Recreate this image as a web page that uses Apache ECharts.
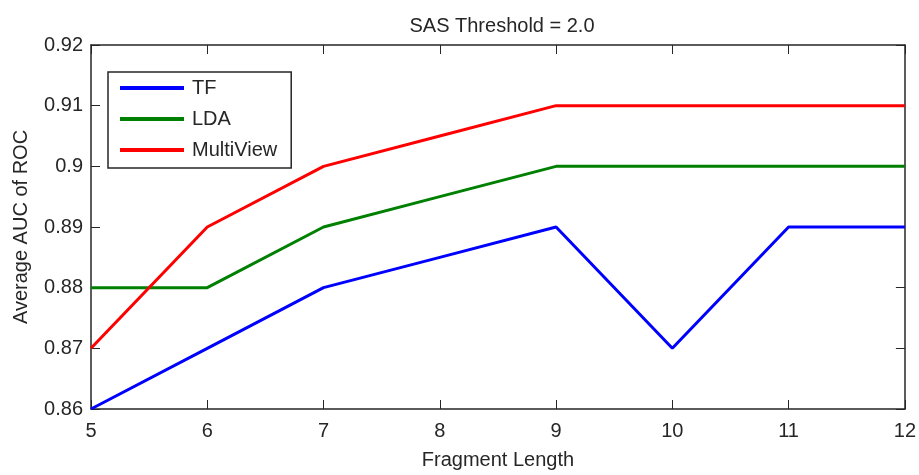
<!DOCTYPE html>
<html>
<head>
<meta charset="utf-8">
<script src="https://cdn.jsdelivr.net/npm/echarts@6/dist/echarts.min.js"></script>
<style>
  html, body { margin: 0; padding: 0; background: #fff; }
  #chart { width: 919px; height: 475px; }
</style>
</head>
<body>
<div id="chart"></div>
<script>
// fragment lengths on the x axis
var fragLen = [5, 6, 7, 8, 9, 10, 11, 12]
var tfAuc = [0.86, 0.87, 0.88, 0.885, 0.89, 0.87, 0.89, 0.89]
var ldaAuc = [0.88, 0.88, 0.89, 0.895, 0.90, 0.90, 0.90, 0.90]
var multiViewAuc = [0.87, 0.89, 0.90, 0.905, 0.91, 0.91, 0.91, 0.91]

function pairs (ys) {
  return fragLen.map(function (x, i) { return [x, ys[i]] })
}

var axisColor = '#262626'
var txtColor = '#262626'
var font = 'Liberation Sans, Arial, sans-serif'

var myChart = echarts.init(document.getElementById('chart'))
myChart.setOption({
  backgroundColor: '#ffffff',
  animation: false,
  title: {
    text: 'SAS Threshold = 2.0',
    left: 497,
    textAlign: 'center',
    top: 11,
    textStyle: { fontFamily: font, fontWeight: 'normal', fontSize: 20, color: txtColor }
  },
  legend: {
    orient: 'vertical',
    left: 108,
    top: 72,
    padding: [6, 14, 8, 12],
    borderColor: '#262626',
    borderWidth: 1.5,
    itemWidth: 64,
    itemHeight: 4,
    itemGap: 11,
    icon: 'rect',
    textStyle: { fontFamily: font, fontSize: 20, lineHeight: 20, color: txtColor, padding: [0, 0, 0, 3] },
    data: ['TF', 'LDA', 'MultiView']
  },
  grid: { left: 91, right: 13, top: 45, bottom: 63 },
  xAxis: [{
    type: 'value',
    min: 5,
    max: 12,
    interval: 1,
    name: 'Fragment Length',
    nameLocation: 'middle',
    nameGap: 41,
    nameTextStyle: { fontFamily: font, fontSize: 20, color: txtColor },
    axisLine: { lineStyle: { color: axisColor, width: 1.5 } },
    axisTick: { inside: true, length: 9, lineStyle: { color: axisColor } },
    axisLabel: { fontFamily: font, fontSize: 20, color: txtColor, margin: 12 },
    splitLine: { show: false }
  }, {
    type: 'value',
    position: 'top',
    min: 5,
    max: 12,
    interval: 1,
    axisLine: { lineStyle: { color: axisColor, width: 1.5 } },
    axisTick: { inside: true, length: 9, lineStyle: { color: axisColor } },
    axisLabel: { show: false },
    splitLine: { show: false }
  }],
  yAxis: [{
    type: 'value',
    min: 0.86,
    max: 0.92,
    interval: 0.01,
    name: 'Average AUC of ROC',
    nameLocation: 'middle',
    nameGap: 60,
    nameTextStyle: { fontFamily: font, fontSize: 20, color: txtColor },
    axisLine: { show: true, lineStyle: { color: axisColor, width: 1.5 } },
    axisTick: { show: true, inside: true, length: 9, lineStyle: { color: axisColor } },
    axisLabel: {
      fontFamily: font, fontSize: 20, color: txtColor, margin: 8,
      formatter: function (v) { return String(+v.toFixed(2)) }
    },
    splitLine: { show: false }
  }, {
    type: 'value',
    position: 'right',
    min: 0.86,
    max: 0.92,
    interval: 0.01,
    axisLine: { show: true, lineStyle: { color: axisColor, width: 1.5 } },
    axisTick: { show: true, inside: true, length: 9, lineStyle: { color: axisColor } },
    axisLabel: { show: false },
    splitLine: { show: false }
  }],
  series: [
    {
      name: 'TF', type: 'line', symbol: 'none', color: '#0000ff',
      lineStyle: { width: 3 }, data: pairs(tfAuc), z: 3
    },
    {
      name: 'LDA', type: 'line', symbol: 'none', color: '#008000',
      lineStyle: { width: 3 }, data: pairs(ldaAuc), z: 2
    },
    {
      name: 'MultiView', type: 'line', symbol: 'none', color: '#ff0000',
      lineStyle: { width: 3 }, data: pairs(multiViewAuc), z: 4
    }
  ]
})
</script>
</body>
</html>
